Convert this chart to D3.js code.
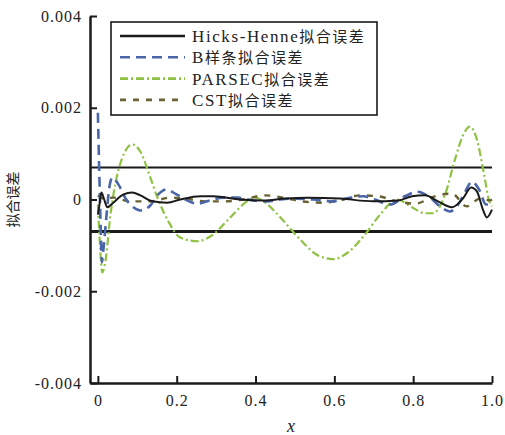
<!DOCTYPE html>
<html>
<head>
<meta charset="utf-8">
<script src="https://cdn.jsdelivr.net/npm/d3@7"></script>
<style>
  body { margin: 0; background: #fff; }
</style>
</head>
<body>
<div class="chart"></div>
<script>
// Fitting error of four airfoil parameterisations
var svgWidth = 505;
var svgHeight = 435;

var margin = { top: 16, right: 13, bottom: 52, left: 90 };
var width = svgWidth - margin.left - margin.right;
var height = svgHeight - margin.top - margin.bottom;
var serif = '"Liberation Serif", "Times New Roman", "DejaVu Serif", serif';
var cjkFont = '"Noto Sans CJK SC", sans-serif';

// data
var seriesNames = ["Hicks-Henne拟合误差", "B样条拟合误差", "PARSEC拟合误差", "CST拟合误差"];

var hicksX = [0, 0.004, 0.009, 0.016, 0.024, 0.039, 0.065, 0.087, 0.108, 0.138, 0.176, 0.209, 0.260, 0.293, 0.361, 0.420, 0.475, 0.531, 0.615, 0.698, 0.762, 0.797, 0.830, 0.863, 0.898, 0.926, 0.947, 0.962, 0.977, 0.987, 1.0];
var hicksY = [-0.00033, -0.00011, 0.00015, 0, -0.00017, -0.00007, 0.00011, 0.00015, 0.00009, -0.00004, -0.00007, 0, 0.00007, 0.00007, 0, -0.00002, 0.00002, 0.00004, 0.00002, -0.00004, -0.00002, 0.00007, 0.00009, -0.00004, -0.00017, 0.00002, 0.00026, 0.00017, -0.00022, -0.00039, -0.00022];

var bsplX = [0, 0.004, 0.008, 0.010, 0.014, 0.022, 0.029, 0.037, 0.052, 0.072, 0.090, 0.108, 0.133, 0.153, 0.174, 0.196, 0.222, 0.252, 0.285, 0.318, 0.354, 0.394, 0.430, 0.463, 0.496, 0.546, 0.594, 0.640, 0.673, 0.703, 0.741, 0.779, 0.810, 0.843, 0.868, 0.893, 0.914, 0.932, 0.949, 0.967, 0.985, 1.0];
var bsplY = [0.00189, 0.00043, -0.00087, -0.00137, -0.00109, -0.00033, 0.00026, 0.00048, 0.00033, 0, -0.00017, -0.00024, -0.00013, 0.00011, 0.00022, 0.00013, 0, -0.00009, -0.00002, 0.00004, 0.00004, -0.00002, -0.00004, 0, 0.00002, 0, -0.00004, 0.00004, 0.00007, 0, -0.00011, 0.00007, 0.00017, 0.00004, -0.00015, -0.00026, -0.00011, 0.00017, 0.00039, 0.00022, -0.00011, -0.00011];

var parsecX = [0, 0.006, 0.011, 0.019, 0.032, 0.044, 0.062, 0.087, 0.108, 0.133, 0.153, 0.179, 0.209, 0.252, 0.290, 0.336, 0.374, 0.399, 0.425, 0.463, 0.513, 0.559, 0.597, 0.635, 0.678, 0.716, 0.759, 0.797, 0.830, 0.850, 0.881, 0.906, 0.927, 0.944, 0.962, 0.980, 0.992, 1.0];
var parsecY = [-0.00011, -0.00109, -0.00159, -0.00135, -0.00033, 0.00033, 0.00091, 0.00120, 0.00104, 0.00048, 0, -0.00048, -0.00083, -0.00091, -0.00078, -0.00039, -0.00007, 0.00004, -0.00007, -0.00039, -0.00087, -0.00122, -0.00130, -0.00115, -0.00076, -0.00033, 0, -0.00017, -0.00030, -0.00030, 0.00011, 0.00087, 0.00141, 0.00159, 0.00130, 0.00054, 0, -0.00015];

var cstX = [0, 0.014, 0.039, 0.082, 0.133, 0.184, 0.222, 0.273, 0.323, 0.369, 0.424, 0.470, 0.518, 0.569, 0.615, 0.665, 0.711, 0.759, 0.805, 0.855, 0.898, 0.936, 0.969, 0.995, 1.0];
var cstY = [0.00009, 0.00002, 0.00004, -0.00004, -0.00004, 0.00004, 0.00002, -0.00004, -0.00004, 0, 0.00009, 0.00004, -0.00004, -0.00007, -0.00002, 0.00009, 0.00007, -0.00004, -0.00009, 0.00007, 0.00013, -0.00015, 0.00002, -0.00002, 0];

var limitLines = [0.0007, -0.0007];

var xTicks = [0, 0.2, 0.4, 0.6, 0.8, 1.0];
var xTickLabels = ["0", "0.2", "0.4", "0.6", "0.8", "1.0"];
var yTicks = [-0.004, -0.002, 0, 0.002, 0.004];
var yTickLabels = ["-0.004", "-0.002", "0", "0.002", "0.004"];

// styles
var colors = ["#1a1a1a", "#4a65a8", "#8fc142", "#6a6232"];
var dashes = [null, "10,6", "8,3,2,3", "6,7"];
var widths = [2, 2.6, 2.2, 2.4];

var series = [
  { name: seriesNames[0], xs: hicksX, ys: hicksY },
  { name: seriesNames[1], xs: bsplX, ys: bsplY },
  { name: seriesNames[2], xs: parsecX, ys: parsecY },
  { name: seriesNames[3], xs: cstX, ys: cstY }
];
series.forEach(function(s) {
  s.values = s.xs.map(function(x, i) { return { x: x, y: s.ys[i] }; });
});

var svg = d3.select(".chart")
  .append("svg")
  .attr("width", svgWidth)
  .attr("height", svgHeight)
  .append("g")
  .attr("transform", "translate(" + margin.left + "," + margin.top + ")");

var x = d3.scaleLinear().domain([-0.02, 1.0]).range([0, width]);
var y = d3.scaleLinear().domain([-0.004, 0.004]).range([height, 0]);

// limit lines
svg.selectAll(".limit")
  .data(limitLines)
  .enter().append("line")
  .attr("class", "limit")
  .attr("x1", 0)
  .attr("x2", width)
  .attr("y1", function(d) { return y(d); })
  .attr("y2", function(d) { return y(d); })
  .attr("stroke", "#1a1a1a")
  .attr("stroke-width", function(d) { return d > 0 ? 2 : 3; });

var line = d3.line()
  .x(function(d) { return x(d.x); })
  .y(function(d) { return y(d.y); })
  .curve(d3.curveMonotoneX);

// draw order: green, olive, blue, black
[2, 3, 1, 0].forEach(function(i) {
  svg.append("path")
    .datum(series[i].values)
    .attr("fill", "none")
    .attr("stroke", colors[i])
    .attr("stroke-width", widths[i])
    .attr("stroke-dasharray", dashes[i])
    .attr("d", line);
});

// axes
var xAxis = d3.axisBottom(x)
  .tickValues(xTicks)
  .tickFormat(function(d, i) { return xTickLabels[i]; })
  .tickSizeInner(-7)
  .tickSizeOuter(0)
  .tickPadding(12);

var yAxis = d3.axisLeft(y)
  .tickValues(yTicks)
  .tickFormat(function(d, i) { return yTickLabels[i]; })
  .tickSizeInner(-7)
  .tickSizeOuter(0)
  .tickPadding(8);

var gx = svg.append("g")
  .attr("transform", "translate(0," + height + ")")
  .call(xAxis);
var gy = svg.append("g").call(yAxis);

[gx, gy].forEach(function(g) {
  g.select(".domain").attr("stroke", "#1a1a1a").attr("stroke-width", 2.5);
  g.selectAll(".tick line").attr("stroke", "#1a1a1a").attr("stroke-width", 2);
  g.selectAll(".tick text")
    .attr("fill", "#222")
    .style("font-family", serif)
    .style("font-size", "16px")
    .style("letter-spacing", "1px");
});

// axis titles
svg.append("text")
  .attr("x", 201)
  .attr("y", height + 49)
  .attr("text-anchor", "middle")
  .style("font-family", serif)
  .style("font-style", "italic")
  .style("font-size", "18px")
  .attr("fill", "#222")
  .text("x");

svg.append("text")
  .attr("transform", "rotate(-90)")
  .attr("x", -(y(0)))
  .attr("y", -72)
  .attr("text-anchor", "middle")
  .style("font-family", cjkFont)
  .style("font-size", "14px")
  .attr("fill", "#222")
  .text("拟合误差");

// legend
var legend = svg.append("g").attr("transform", "translate(21,6)");
legend.append("rect")
  .attr("width", 266)
  .attr("height", 93)
  .attr("fill", "#fff")
  .attr("stroke", "#1a1a1a")
  .attr("stroke-width", 1.6);

var entry = legend.selectAll(".entry")
  .data(series)
  .enter().append("g")
  .attr("transform", function(d, i) { return "translate(0," + (14 + i * 21.3) + ")"; });

entry.append("line")
  .attr("x1", 9)
  .attr("x2", 74)
  .attr("stroke", function(d, i) { return colors[i]; })
  .attr("stroke-width", 2.6)
  .attr("stroke-dasharray", function(d, i) { return dashes[i]; });

var label = entry.append("text")
  .attr("x", 81)
  .attr("y", 6)
  .attr("fill", "#222");

label.each(function(d) {
  var runs = d.name.match(/[\u4e00-\u9fff]+|[^\u4e00-\u9fff]+/g);
  var t = d3.select(this);
  runs.forEach(function(r) {
    var cjk = /[\u4e00-\u9fff]/.test(r);
    t.append("tspan")
      .style("font-family", cjk ? cjkFont : serif)
      .style("font-size", cjk ? "15px" : "17px")
      .style("letter-spacing", cjk ? "1.5px" : "1.6px")
      .text(r);
  });
});
</script>
</body>
</html>
